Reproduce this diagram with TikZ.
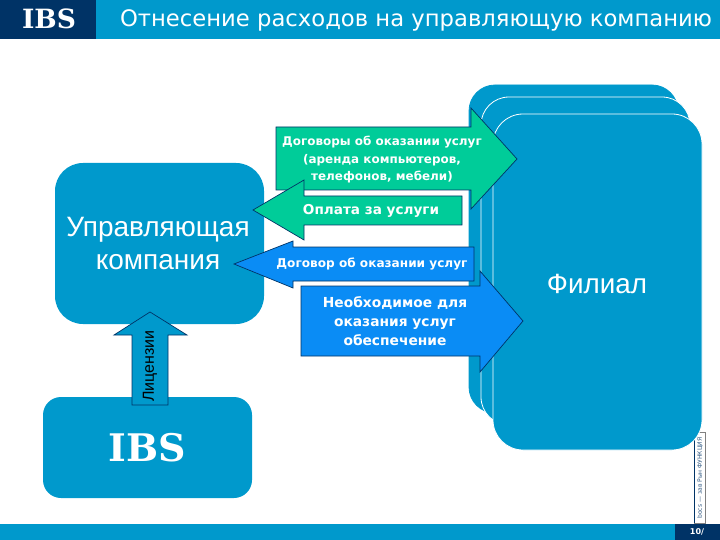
\documentclass[tikz,border=0pt]{standalone}
\usepackage{fontspec}
\setmainfont{Liberation Sans}
\newfontfamily\labelfont{DejaVu Sans}
\newfontfamily\logofont{DejaVu Serif}
\definecolor{ibsblue}{HTML}{0099CC}
\definecolor{ibsdark}{HTML}{003366}
\definecolor{ibsgreen}{HTML}{00CC99}
\definecolor{ibsarrow}{HTML}{0A8CF5}
\begin{document}
\begin{tikzpicture}[x=1pt,y=-1pt,
    box/.style={fill=ibsblue,draw=white,line width=.8pt},
    arrowline/.style={draw=ibsdark,line width=.7pt},
    arrowtext/.style={text=white,align=center,font=\labelfont\bfseries\fontsize{13.6}{17}\selectfont}]
    \useasboundingbox (0,0) rectangle (720,540);
    % header and footer
    \fill [ibsblue] (96,0) rectangle (720,39);
    \fill [ibsdark] (0,0) rectangle (96,39);
    \fill [ibsblue] (0,524) rectangle (675,540);
    \fill [ibsdark] (675,524) rectangle (720,540);
    \node [text=white,font=\logofont\bfseries\fontsize{26.5}{26}\selectfont] (logo) at (49,18.5) {IBS};
    \node [text=white,font=\labelfont\fontsize{22.7}{23}\selectfont] (title) at (416,20) {Отнесение расходов на управляющую компанию};
    \node [text=white,font=\labelfont\bfseries\fontsize{8}{8}\selectfont] (page) at (697,532) {10/};
    % side note
    \draw [fill=white,draw=gray] (694.5,432) rectangle (705,523);
    \draw [ibsdark] (694.5,432) -- (694.5,523);
    \node [rotate=90,text=ibsdark!80,font=\labelfont\fontsize{6}{6}\selectfont] (note) at (700,478) {bocs — зав Рын ФУНКЦИЯ};
    % branch cards
    \draw [box,draw=ibsblue,rounded corners=26pt] (469,85) rectangle (678,413);
    \draw [box,rounded corners=28pt] (481,97) rectangle (690,425);
    \draw [box,rounded corners=30pt] (493,114) rectangle (702,450);
    \node [text=white,font=\fontsize{27.8}{28}\selectfont] (branch) at (597,284) {Филиал};
    % company boxes
    \draw [box,draw=none,rounded corners=28pt] (55,163) rectangle (264,324);
    \node [text=white,align=center,font=\fontsize{28}{33}\selectfont] (company) at (158,244) {Управляющая\\компания};
    \draw [box,draw=none,rounded corners=18pt] (43,397) rectangle (252,498);
    \node [text=white,font=\logofont\bfseries\fontsize{38}{38}\selectfont] (ibs) at (147,448) {IBS};
    % licence arrow
    \draw [arrowline,fill=ibsblue] (132,405) -- (132,335) -- (114,335) -- (150,312) -- (187,335) -- (168,335) -- (168,405) -- cycle;
    \node [rotate=90,font=\fontsize{16}{16}\selectfont] (licence) at (150,366) {Лицензии};
    % contract arrows
    \draw [arrowline,fill=ibsgreen] (276,127) -- (471,127) -- (471,108) -- (517,159) -- (471,209) -- (471,190) -- (276,190) -- cycle;
    \node [arrowtext,font=\labelfont\bfseries\fontsize{11.95}{17.5}\selectfont] (contracts) at (382,160) {Договоры об оказании услуг\\(аренда компьютеров,\\телефонов, мебели)};
    \draw [arrowline,fill=ibsgreen] (462,196) -- (304,196) -- (304,180) -- (253,210) -- (304,240) -- (304,225) -- (462,225) -- cycle;
    \node [arrowtext] (payment) at (371,211) {Оплата за услуги};
    \draw [arrowline,fill=ibsarrow] (474,247) -- (293,247) -- (293,241) -- (234,264) -- (293,288) -- (293,281) -- (474,281) -- cycle;
    \node [arrowtext,font=\labelfont\bfseries\fontsize{12.1}{14}\selectfont] (contract) at (372,264) {Договор об оказании услуг};
    \draw [arrowline,fill=ibsarrow] (301,286) -- (480,286) -- (480,271) -- (523,321) -- (480,372) -- (480,356) -- (301,356) -- cycle;
    \node [arrowtext,font=\labelfont\bfseries\fontsize{13.8}{19}\selectfont] (supply) at (395,321) {Необходимое для\\оказания услуг\\обеспечение};
\end{tikzpicture}
\end{document}
